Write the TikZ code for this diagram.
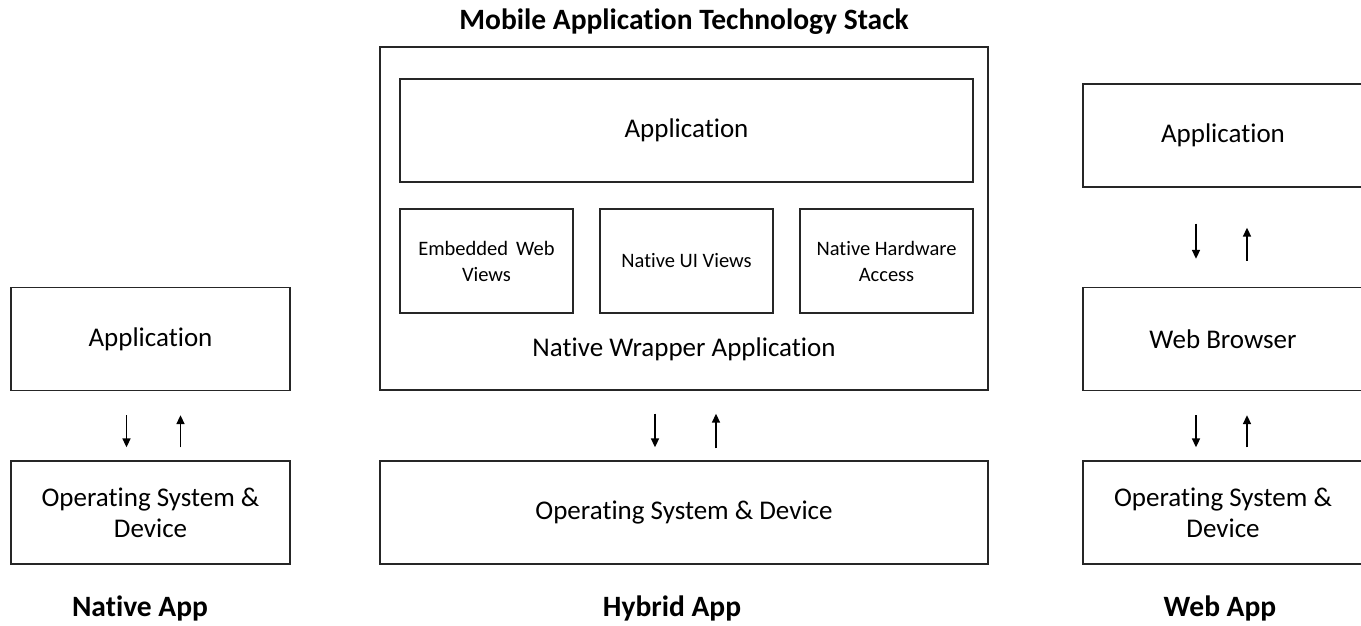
\documentclass[tikz,border=0pt]{standalone}
\usepackage{fontspec}
\setmainfont[Ligatures=NoCommon]{Carlito}
\usetikzlibrary{arrows.meta}
\tikzset{
  box/.style={draw=black!85, line width=1.3pt, inner sep=0pt, align=center,
              font=\fontsize{27}{31}\selectfont},
  smallbox/.style={box, font=\fontsize{20.5}{26}\selectfont},
  flow/.style={line width=1.6pt, -{Triangle[width=8pt,length=9pt]}},
  caption/.style={font=\bfseries\fontsize{29.5}{34}\selectfont, anchor=base},
}
\begin{document}
\begin{tikzpicture}[x=1pt,y=-1pt]
\useasboundingbox (0,0) rectangle (1361,625);
\clip (0,0) rectangle (1361,625);

% ---- Native app column ----
\node[box, minimum width=279pt, minimum height=103pt] (napp) at (150.5,339) {Application};
\node[box, minimum width=279pt, minimum height=103pt] (nos)  at (150.5,512.5) {Operating System \&\\Device};
\draw[flow, shorten <=24pt, shorten >=13pt] ([xshift=-24pt]napp.south) -- ([xshift=-24pt]nos.north);
\draw[flow, shorten <=13pt, shorten >=24pt] ([xshift=30pt]nos.north) -- ([xshift=30pt]napp.south);
\node[caption] (ncap) at (140,616) {Native App};

% ---- Hybrid app column ----
\node[caption] (title) at (684,29) {Mobile Application Technology Stack};
\node[box, minimum width=608pt, minimum height=343pt] (wrap) at (684,218.5) {};
\node[box, minimum width=573pt, minimum height=103pt] (happ) at (686.5,130.5) {Application};
\node[smallbox, minimum width=173pt, minimum height=104pt] (emb) at (486.5,261) {Embedded\, Web\\Views};
\node[smallbox, minimum width=173pt, minimum height=104pt] (uiv) at (686.5,261) {Native UI Views};
\node[smallbox, minimum width=173pt, minimum height=104pt] (hwa) at (886.5,261) {Native Hardware\\Access};
\node[font=\fontsize{27}{31}\selectfont] (wlabel) at (684,349) {Native Wrapper Application};
\node[box, minimum width=608pt, minimum height=103pt] (hos) at (684,512.5) {Operating System \& Device};
\draw[flow, shorten <=23pt, shorten >=13pt] ([xshift=-29pt]wrap.south) -- ([xshift=-29pt]hos.north);
\draw[flow, shorten <=12pt, shorten >=23pt] ([xshift=32pt]hos.north) -- ([xshift=32pt]wrap.south);
\node[caption] (hcap) at (672,616) {Hybrid App};

% ---- Web app column ----
\node[box, minimum width=280pt, minimum height=103pt] (wapp) at (1223,135.5) {Application};
\node[box, minimum width=280pt, minimum height=103pt] (wbr)  at (1223,339) {Web Browser};
\node[box, minimum width=280pt, minimum height=103pt] (wos)  at (1223,512.5) {Operating System \&\\Device};
\draw[flow, shorten <=36pt, shorten >=28pt] ([xshift=-27pt]wapp.south) -- ([xshift=-27pt]wbr.north);
\draw[flow, shorten <=26pt, shorten >=40pt] ([xshift=24pt]wbr.north) -- ([xshift=24pt]wapp.south);
\draw[flow, shorten <=24pt, shorten >=13pt] ([xshift=-27pt]wbr.south) -- ([xshift=-27pt]wos.north);
\draw[flow, shorten <=13pt, shorten >=24pt] ([xshift=24pt]wos.north) -- ([xshift=24pt]wbr.south);
\node[caption] (wcap) at (1220,616) {Web App};
\end{tikzpicture}
\end{document}
